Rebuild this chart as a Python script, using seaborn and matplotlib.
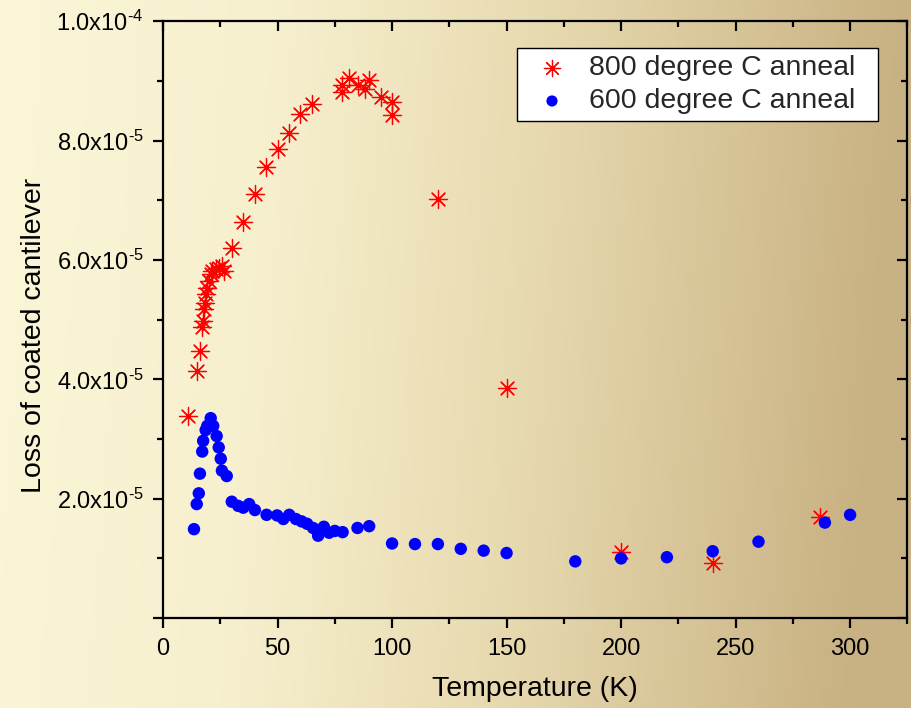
import numpy as np
import pandas as pd
import matplotlib
matplotlib.use("Agg")
import matplotlib.pyplot as plt
from matplotlib.ticker import MultipleLocator, FuncFormatter
from matplotlib.colors import LinearSegmentedColormap
from matplotlib.patches import Rectangle
import seaborn as sns

# Temperature (K) and mechanical loss (units of 1e-5) for each anneal
temp_800 = [11, 15, 16, 17, 17.3, 18, 18.4, 18.8, 19.2, 20, 20.8, 21.3, 23,
            24.3, 25.6, 26.5, 30, 35, 40, 45, 50, 55, 60, 65, 78, 78, 81, 85,
            88, 90, 95, 100, 100, 120, 150, 200, 240, 287]
loss_800 = [3.39, 4.14, 4.47, 4.88, 4.98, 5.18, 5.28, 5.43, 5.53, 5.65, 5.77,
            5.82, 5.85, 5.87, 5.9, 5.82, 6.2, 6.63, 7.1, 7.56, 7.86, 8.13,
            8.44, 8.61, 8.94, 8.82, 9.05, 8.94, 8.86, 9.02, 8.73, 8.65, 8.43,
            7.03, 3.86, 1.11, 0.93, 1.70]

temp_600 = [13.5, 14.7, 15.6, 16.1, 17.1, 17.5, 18.6, 19.3, 20.8, 21.9, 23.4,
            24.3, 25.2, 25.7, 27.8, 30, 32.8, 35, 37.6, 40.1, 45.2, 49.8,
            52.5, 55.1, 58, 60.5, 62.9, 65.5, 67.7, 70.2, 72.5, 75, 78.4,
            84.9, 90, 100, 110, 120, 130, 140, 150, 180, 200, 220, 240, 260,
            289, 300]
loss_600 = [1.49, 1.91, 2.09, 2.42, 2.79, 2.97, 3.15, 3.22, 3.35, 3.22, 3.05,
            2.86, 2.67, 2.47, 2.38, 1.95, 1.88, 1.85, 1.91, 1.81, 1.73, 1.72,
            1.66, 1.73, 1.66, 1.62, 1.58, 1.51, 1.38, 1.53, 1.43, 1.46, 1.44,
            1.51, 1.54, 1.25, 1.24, 1.24, 1.16, 1.13, 1.09, 0.95, 1.0, 1.02,
            1.12, 1.28, 1.60, 1.73]

label_800 = "800 degree C anneal"
label_600 = "600 degree C anneal"
scale = 1e-5

df800 = pd.DataFrame({"T": temp_800, "loss": np.array(loss_800) * scale})
df600 = pd.DataFrame({"T": temp_600, "loss": np.array(loss_600) * scale})

sns.set_theme(style="ticks")
plt.rcParams["font.family"] = ["Liberation Sans", "DejaVu Sans"]
plt.rcParams["mathtext.fontset"] = "custom"
plt.rcParams["mathtext.rm"] = "Liberation Sans"
plt.rcParams["mathtext.it"] = "Liberation Sans:italic"
plt.rcParams["mathtext.default"] = "regular"
plt.rcParams["xtick.labelsize"] = 17
plt.rcParams["ytick.labelsize"] = 17

fig = plt.figure(figsize=(9.11, 7.08), dpi=100)

# warm cream-to-tan backdrop behind everything
bg = fig.add_axes([0, 0, 1, 1], zorder=-10)
cmap = LinearSegmentedColormap.from_list(
    "warm", [(0.0, "#faf6d7"), (0.3, "#f7f0cf"), (0.6, "#e8dab0"),
             (1.0, "#c8b182")])
xx = np.linspace(0, 1, 512)
yy = np.linspace(0, 1, 64)
grad = xx[None, :] + 0.06 * (1 - yy[:, None])
bg.imshow(grad, aspect="auto", cmap=cmap, extent=[0, 1, 0, 1],
          origin="lower", vmin=0, vmax=1.0)
bg.set_axis_off()

ax = fig.add_axes([0.179, 0.127, 0.817, 0.843])
ax.set_facecolor("none")

star = (8, 2, 0)
sns.scatterplot(data=df800, x="T", y="loss", ax=ax, marker=star, s=170,
                color="#ff0000", linewidth=0.9, label=label_800, zorder=3)
sns.scatterplot(data=df600, x="T", y="loss", ax=ax, marker="o", s=80,
                color="#0000ff", edgecolor="none", linewidth=0,
                label=label_600, zorder=4)

ax.set_xlim(0, 325)
ax.set_ylim(0, 1e-4)
ax.xaxis.set_major_locator(MultipleLocator(50))
ax.xaxis.set_minor_locator(MultipleLocator(25))
ax.yaxis.set_major_locator(MultipleLocator(2e-5))
ax.yaxis.set_minor_locator(MultipleLocator(1e-5))


def sci_label(v, pos):
    if v <= 0:
        return ""
    e = int(np.floor(np.log10(v) + 1e-9))
    m = v / 10 ** e
    return f"{m:.1f}x10$^{{\\text{{{e}}}}}$"


ax.yaxis.set_major_formatter(FuncFormatter(sci_label))

for s in ax.spines.values():
    s.set_visible(True)
    s.set_linewidth(1.6)
    s.set_color("black")

ax.tick_params(axis="both", which="both", color="black", width=1.6,
               labelsize=17, labelcolor="black")
ax.tick_params(axis="both", which="major", length=7)
ax.tick_params(axis="both", which="minor", length=4)
ax.tick_params(axis="x", which="both", direction="out", top=True,
               bottom=True, pad=7)
ax.tick_params(axis="y", which="both", direction="out", left=True,
               right=True, pad=7)
# top and right ticks point inward
for t in ax.xaxis.get_major_ticks() + ax.xaxis.get_minor_ticks():
    t.tick2line.set_marker(3)
for t in ax.yaxis.get_major_ticks() + ax.yaxis.get_minor_ticks():
    t.tick2line.set_marker(0)

ax.set_xlabel("Temperature (K)", fontsize=20.5, color="black", labelpad=12)
ax.set_ylabel("Loss of coated cantilever", fontsize=20.5, color="black")
ax.yaxis.set_label_coords(-0.156, 0.473)

leg = ax.legend(loc="center right", bbox_to_anchor=(0.930, 0.8936),
                fontsize=20.5, frameon=False, borderpad=0,
                handlelength=0.8, handletextpad=0.9, labelspacing=0.26,
                markerscale=0.9, borderaxespad=0)
leg.set_zorder(6)

# white box with a thin black border behind the legend entries
fig.canvas.draw()
bb = leg.get_window_extent()
to_axes = ax.transAxes.inverted()
pad_left, pad_right, box_h = 24, 23, 73
cy = 0.5 * (bb.y0 + bb.y1)
(x0, y0) = to_axes.transform((bb.x0 - pad_left, cy - box_h / 2))
(x1, y1) = to_axes.transform((bb.x1 + pad_right, cy + box_h / 2))
ax.add_patch(Rectangle((x0, y0), x1 - x0, y1 - y0, transform=ax.transAxes,
                       facecolor="white", edgecolor="black", linewidth=1.0,
                       zorder=5.5))

fig.savefig("out.png", dpi=100)
